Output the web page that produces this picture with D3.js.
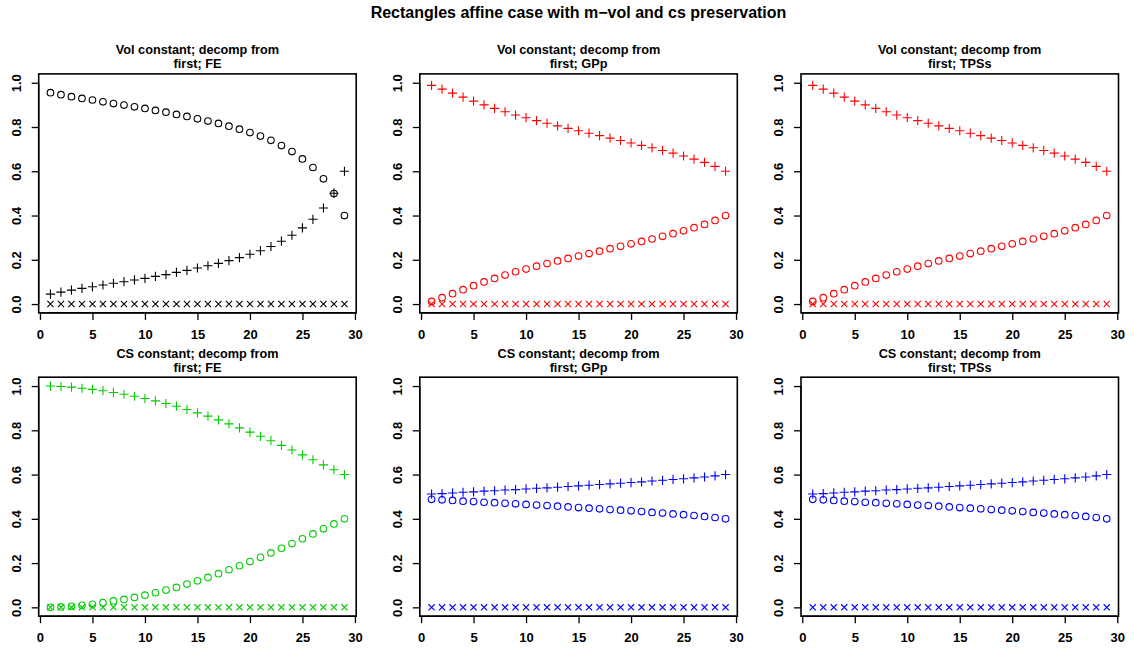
<!DOCTYPE html>
<html>
<head>
<meta charset="utf-8">
<script src="https://cdnjs.cloudflare.com/ajax/libs/d3/7.8.5/d3.min.js"></script>
<style>
  html, body { margin: 0; padding: 0; background: #fff; }
  svg { display: block; }
  text { font-family: "Liberation Sans", Arial, Helvetica, sans-serif; font-weight: bold; fill: #000; }
</style>
</head>
<body>
<svg id="chart" width="1134" height="652"></svg>
<script>
// Step index shared by every panel
const steps = [1,2,3,4,5,6,7,8,9,10,11,12,13,14,15,16,17,18,19,20,21,22,23,24,25,26,27,28,29];

const mainTitle = "Rectangles affine case with m\u2212vol and cs preservation";
const panelTitles = [
  ["Vol constant; decomp from", "first; FE"],
  ["Vol constant; decomp from", "first; GPp"],
  ["Vol constant; decomp from", "first; TPSs"],
  ["CS constant; decomp from", "first; FE"],
  ["CS constant; decomp from", "first; GPp"],
  ["CS constant; decomp from", "first; TPSs"]
];
const panelColors = ["#000000", "#FF0000", "#FF0000", "#00CD00", "#0000FF", "#0000FF"];

const xTicks = [0, 5, 10, 15, 20, 25, 30];
const yTicks = [0.0, 0.2, 0.4, 0.6, 0.8, 1.0];

// Volume-constant, FE
const volFECircle = [0.955,0.946,0.937,0.929,0.922,0.914,0.906,0.899,0.891,0.884,0.875,0.867,0.857,0.848,0.837,0.827,0.816,0.804,0.790,0.775,0.759,0.740,0.716,0.689,0.656,0.617,0.566,0.499,0.400];
const volFEPlus   = [0.045,0.054,0.063,0.071,0.078,0.086,0.094,0.101,0.109,0.116,0.125,0.133,0.143,0.152,0.163,0.173,0.184,0.196,0.210,0.225,0.241,0.260,0.284,0.311,0.344,0.383,0.434,0.501,0.600];
const volFECross  = [0,0,0,0,0,0,0,0,0,0,0,0,0,0,0,0,0,0,0,0,0,0,0,0,0,0,0,0,0];

// Volume-constant, GPp
const volGPpCircle = [0.012,0.029,0.047,0.065,0.083,0.100,0.116,0.131,0.146,0.158,0.171,0.183,0.195,0.206,0.217,0.228,0.239,0.250,0.261,0.272,0.283,0.294,0.306,0.318,0.331,0.345,0.360,0.378,0.400];
const volGPpPlus   = [0.988,0.971,0.953,0.935,0.917,0.900,0.884,0.869,0.854,0.842,0.829,0.817,0.805,0.794,0.783,0.772,0.761,0.750,0.739,0.728,0.717,0.706,0.694,0.682,0.669,0.655,0.640,0.622,0.600];
const volGPpCross  = [0,0,0,0,0,0,0,0,0,0,0,0,0,0,0,0,0,0,0,0,0,0,0,0,0,0,0,0,0];

// Volume-constant, TPSs
const volTPSCircle = [0.012,0.029,0.047,0.065,0.083,0.100,0.116,0.131,0.146,0.158,0.171,0.183,0.195,0.206,0.217,0.228,0.239,0.250,0.261,0.272,0.283,0.294,0.306,0.318,0.331,0.345,0.360,0.378,0.400];
const volTPSPlus   = [0.988,0.971,0.953,0.935,0.917,0.900,0.884,0.869,0.854,0.842,0.829,0.817,0.805,0.794,0.783,0.772,0.761,0.750,0.739,0.728,0.717,0.706,0.694,0.682,0.669,0.655,0.640,0.622,0.600];
const volTPSCross  = [0,0,0,0,0,0,0,0,0,0,0,0,0,0,0,0,0,0,0,0,0,0,0,0,0,0,0,0,0];

// Centroid-size-constant, FE
const csFECircle = [0.000,0.002,0.005,0.009,0.014,0.021,0.029,0.036,0.045,0.055,0.066,0.078,0.090,0.105,0.120,0.135,0.152,0.170,0.188,0.207,0.226,0.246,0.267,0.288,0.310,0.332,0.355,0.377,0.400];
const csFEPlus   = [1.000,0.998,0.995,0.990,0.985,0.979,0.971,0.963,0.954,0.944,0.933,0.921,0.909,0.894,0.879,0.864,0.847,0.829,0.811,0.792,0.773,0.753,0.732,0.711,0.689,0.667,0.644,0.622,0.600];
const csFECross  = [0,0,0,0,0,0,0,0,0,0,0,0,0,0,0,0,0,0,0,0,0,0,0,0,0,0,0,0,0];

// Centroid-size-constant, GPp
const csGPpCircle = [0.488,0.486,0.483,0.480,0.478,0.475,0.473,0.470,0.468,0.465,0.462,0.460,0.457,0.454,0.451,0.448,0.445,0.442,0.439,0.436,0.433,0.429,0.426,0.422,0.419,0.415,0.411,0.406,0.400];
const csGPpPlus   = [0.512,0.514,0.517,0.520,0.522,0.525,0.527,0.530,0.532,0.535,0.538,0.540,0.543,0.546,0.549,0.552,0.555,0.558,0.561,0.564,0.567,0.571,0.574,0.578,0.581,0.585,0.589,0.594,0.600];
const csGPpCross  = [0,0,0,0,0,0,0,0,0,0,0,0,0,0,0,0,0,0,0,0,0,0,0,0,0,0,0,0,0];

// Centroid-size-constant, TPSs
const csTPSCircle = [0.488,0.486,0.483,0.480,0.478,0.475,0.473,0.470,0.468,0.465,0.462,0.460,0.457,0.454,0.451,0.448,0.445,0.442,0.439,0.436,0.433,0.429,0.426,0.422,0.419,0.415,0.411,0.406,0.400];
const csTPSPlus   = [0.512,0.514,0.517,0.520,0.522,0.525,0.527,0.530,0.532,0.535,0.538,0.540,0.543,0.546,0.549,0.552,0.555,0.558,0.561,0.564,0.567,0.571,0.574,0.578,0.581,0.585,0.589,0.594,0.600];
const csTPSCross  = [0,0,0,0,0,0,0,0,0,0,0,0,0,0,0,0,0,0,0,0,0,0,0,0,0,0,0,0,0];

const panelSeries = [
  { circle: volFECircle,  plus: volFEPlus,  cross: volFECross },
  { circle: volGPpCircle, plus: volGPpPlus, cross: volGPpCross },
  { circle: volTPSCircle, plus: volTPSPlus, cross: volTPSCross },
  { circle: csFECircle,   plus: csFEPlus,   cross: csFECross },
  { circle: csGPpCircle,  plus: csGPpPlus,  cross: csGPpCross },
  { circle: csTPSCircle,  plus: csTPSPlus,  cross: csTPSCross }
];

// ---- layout ----
const colLeft = [38.7, 419.8, 801.0];
const rowTop = [73.9, 377.2];
const boxW = 317.5, boxH = 239.0;
const tickLen = 7;

const svg = d3.select("#chart");

svg.append("text")
  .attr("x", 578.5).attr("y", 17.5)
  .attr("text-anchor", "middle")
  .style("font-size", "16px")
  .text(mainTitle);

// plotting symbols (outline glyphs)
function plusPath(h) { return `M${-h},0H${h}M0,${-h}V${h}`; }
function crossPath(h) { return `M${-h},${-h}L${h},${h}M${-h},${h}L${h},${-h}`; }

panelSeries.forEach((series, i) => {
  const col = i % 3, row = Math.floor(i / 3);
  const left = colLeft[col], top = rowTop[row];
  const color = panelColors[i];

  // data range padded by 4% on each side
  const x = d3.scaleLinear().domain([1 - 28 * 0.04, 29 + 28 * 0.04]).range([left, left + boxW]);
  const y = d3.scaleLinear().domain([-0.04, 1.04]).range([top + boxH, top]);

  const g = svg.append("g");

  // frame
  g.append("rect")
    .attr("x", left).attr("y", top)
    .attr("width", boxW).attr("height", boxH)
    .attr("fill", "none").attr("stroke", "#000").attr("stroke-width", 1.6);

  // x axis
  const xAxis = d3.axisBottom(x).tickValues(xTicks).tickFormat(d3.format("d"))
    .tickSize(tickLen).tickPadding(10);
  const gx = g.append("g").attr("transform", `translate(0,${top + boxH})`).call(xAxis);
  gx.select(".domain").attr("d", `M${x(0)},0H${x(30)}`).attr("stroke-width", 1.3);
  gx.selectAll(".tick line").attr("stroke-width", 1.3);
  gx.selectAll(".tick text")
    .style("font-family", "'Liberation Sans', Arial, sans-serif")
    .style("font-weight", "bold").style("font-size", "13px").attr("fill", "#000");

  // y axis (labels parallel to the axis)
  const yAxis = d3.axisLeft(y).tickValues(yTicks).tickFormat(d3.format(".1f"))
    .tickSize(tickLen).tickPadding(0);
  const gy = g.append("g").attr("transform", `translate(${left},0)`).call(yAxis);
  gy.select(".domain").attr("d", `M0,${y(0)}V${y(1)}`).attr("stroke-width", 1.3);
  gy.selectAll(".tick line").attr("stroke-width", 1.3);
  gy.selectAll(".tick text")
    .attr("x", null).attr("dy", null)
    .attr("transform", "translate(-18.2,0) rotate(-90)")
    .attr("text-anchor", "middle")
    .style("font-family", "'Liberation Sans', Arial, sans-serif")
    .style("font-weight", "bold").style("font-size", "13px").attr("fill", "#000");

  // panel title, two lines
  const cx = left + boxW / 2;
  panelTitles[i].forEach((line, k) => {
    g.append("text")
      .attr("x", cx).attr("y", top - 19.5 + k * 14)
      .attr("text-anchor", "middle")
      .style("font-size", "12.7px")
      .text(line);
  });

  const pts = g.append("g").attr("fill", "none").attr("stroke", color).attr("stroke-width", 1.1);

  pts.selectAll("path.cross").data(series.cross).join("path")
    .attr("class", "cross")
    .attr("transform", (d, j) => `translate(${x(steps[j])},${y(d)})`)
    .attr("d", crossPath(3.1));

  pts.selectAll("circle.circ").data(series.circle).join("circle")
    .attr("class", "circ")
    .attr("cx", (d, j) => x(steps[j]))
    .attr("cy", d => y(d))
    .attr("r", 3.3);

  pts.selectAll("path.plus").data(series.plus).join("path")
    .attr("class", "plus")
    .attr("transform", (d, j) => `translate(${x(steps[j])},${y(d)})`)
    .attr("d", plusPath(4.6));
});
</script>
</body>
</html>
